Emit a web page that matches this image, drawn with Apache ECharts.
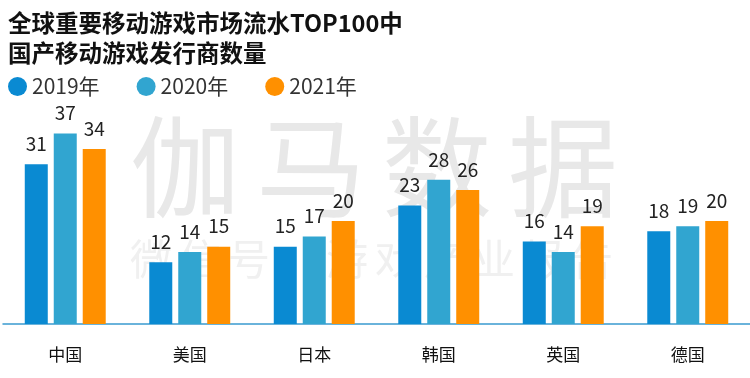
<!DOCTYPE html>
<html><head><meta charset="utf-8">
<script src="https://cdn.jsdelivr.net/npm/echarts@6/dist/echarts.min.js"></script>
<style>html,body{margin:0;padding:0;background:#fff}#c{width:750px;height:378px}</style>
</head><body><div id="c"></div>
<script>
const categories = ['中国','美国','日本','韩国','英国','德国'];
const seriesNames = ['2019年','2020年','2021年'];
const v2019 = [31,12,15,23,16,18];
const v2020 = [37,14,17,28,14,19];
const v2021 = [34,15,20,26,19,20];
const colors = ['#0a8ad2','#31a5d0','#ff9000'];
const FONT = '"Noto Sans CJK SC","Noto Sans",sans-serif';

const chart = echarts.init(document.getElementById('c'));
const wm1 = ['伽','马','数','据'];
const wm2 = ['微','信','号','：','游','戏','产','业','报','告'];
const graphics = [];
wm1.forEach((ch,i)=>graphics.push({type:'text',left:130+i*126,top:112,z:-1,silent:true,
  style:{text:ch,fill:'#e8e8e8',font:'110px '+FONT}}));
wm2.forEach((ch,i)=>graphics.push({type:'text',left:130+i*49,top:238,z:-1,silent:true,
  style:{text:ch,fill:'#f0f0f0',font:'42px '+FONT}}));

const mk = (name,data,color)=>({
  name, type:'bar', data, barWidth:23, barGap:'26%', z:2,
  itemStyle:{color},
  label:{show:true,position:'top',distance:11,color:'#222',fontSize:19,fontFamily:FONT}
});

chart.setOption({
  animation:false,
  textStyle:{fontFamily:FONT},
  title:{text:'全球重要移动游戏市场流水TOP100中\n国产移动游戏发行商数量',left:3,top:3,
    textStyle:{fontSize:23.5,fontWeight:'bold',color:'#111',lineHeight:30,fontFamily:FONT}},
  legend:{left:3,top:71,icon:'circle',itemWidth:19,itemHeight:19,itemGap:37,
    textStyle:{fontSize:21,color:'#333',fontFamily:FONT},data:seriesNames},
  graphic:graphics,
  grid:{left:3,right:0,top:118,bottom:54,containLabel:false},
  xAxis:{type:'category',data:categories,
    axisLine:{lineStyle:{color:'#3a9bd0',width:1.5}},axisTick:{show:false},
    axisLabel:{color:'#111',fontSize:17,margin:22,fontFamily:FONT}},
  yAxis:{type:'value',min:0,max:40,show:false,splitLine:{show:false}},
  series:[mk(seriesNames[0],v2019,colors[0]),mk(seriesNames[1],v2020,colors[1]),mk(seriesNames[2],v2021,colors[2])]
});
</script></body></html>
